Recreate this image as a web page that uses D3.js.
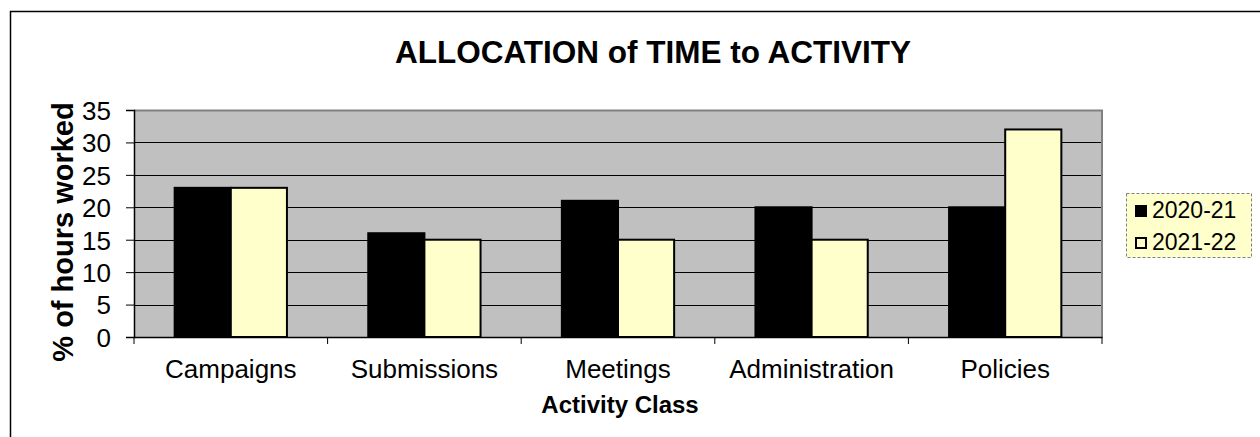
<!DOCTYPE html>
<html>
<head>
<meta charset="utf-8">
<script src="https://cdn.jsdelivr.net/npm/d3@7"></script>
<style>
  body { margin: 0; background: #fff; }
  svg { display: block; font-family: Arial, "Liberation Sans", sans-serif; }
</style>
</head>
<body>
<div id="chart"></div>
<script>
// Data
const categories = ["Campaigns", "Submissions", "Meetings", "Administration", "Policies"];
const seriesNames = ["2020-21", "2021-22"];
const values2020 = [23, 16, 21, 20, 20];
const values2021 = [23, 15, 15, 15, 32];
const yTicks = [0, 5, 10, 15, 20, 25, 30, 35];

const W = 1260, H = 437;
const plot = { left: 134, top: 110, right: 1102, bottom: 337 };
const colors = ["#000000", "#FFFFCC"];
const FONT = "Arial, 'Liberation Sans', sans-serif";

const svg = d3.select("#chart").append("svg")
  .attr("width", W).attr("height", H);

// Outer chart border
svg.append("rect")
  .attr("x", 10.5).attr("y", 11.5)
  .attr("width", W + 20).attr("height", H + 20)
  .attr("fill", "#fff").attr("stroke", "#000").attr("stroke-width", 1.5);

// Scales
const x0 = d3.scaleBand().domain(categories).range([plot.left, plot.right]);
const bw = x0.bandwidth();
const barW = bw * 0.29;
const y = d3.scaleLinear().domain([0, 35]).range([plot.bottom, plot.top]);

// Plot background
svg.append("rect")
  .attr("x", plot.left).attr("y", plot.top)
  .attr("width", plot.right - plot.left).attr("height", plot.bottom - plot.top)
  .attr("fill", "#C0C0C0");

// Gridlines
svg.append("g").selectAll("line").data(yTicks.filter(d => d > 0 && d < 35)).join("line")
  .attr("x1", plot.left).attr("x2", plot.right)
  .attr("y1", d => Math.round(y(d)) + 0.5).attr("y2", d => Math.round(y(d)) + 0.5)
  .attr("stroke", "#000").attr("stroke-width", 1);

// Plot border top/right
svg.append("path")
  .attr("d", `M${plot.left},${plot.top + 0.5}H${plot.right}V${plot.bottom}`)
  .attr("fill", "none").attr("stroke", "#808080").attr("stroke-width", 2);

// Bars
const series = [values2020, values2021];
series.forEach((vals, si) => {
  svg.append("g").selectAll("rect").data(categories).join("rect")
    .attr("x", (c) => x0(c) + bw / 2 - barW + si * barW)
    .attr("y", (c, i) => y(vals[i]))
    .attr("width", barW)
    .attr("height", (c, i) => y(0) - y(vals[i]))
    .attr("fill", colors[si])
    .attr("stroke", "#000").attr("stroke-width", 2);
});

// Y axis
const yAxis = svg.append("g")
  .attr("transform", `translate(${plot.left},0)`)
  .call(d3.axisLeft(y).tickValues(yTicks).tickSize(8).tickPadding(15));
yAxis.select(".domain").attr("stroke", "#000").attr("stroke-width", 1.5);
yAxis.selectAll(".tick line").attr("stroke", "#000");
yAxis.selectAll(".tick text").attr("font-size", 26).attr("fill", "#000")
  .attr("font-family", FONT).attr("dy", "0.36em");

// X axis
const xAxis = svg.append("g")
  .attr("transform", `translate(0,${plot.bottom})`)
  .call(d3.axisBottom(x0).tickSize(0).tickPadding(0));
xAxis.select(".domain").attr("stroke", "#000").attr("stroke-width", 1.5);
xAxis.selectAll(".tick text").attr("font-size", 26).attr("fill", "#000")
  .attr("font-family", FONT).attr("dy", null).attr("y", 41);
// category separator ticks
svg.append("g").selectAll("line").data(categories.concat([null])).join("line")
  .attr("x1", (c) => c === null ? plot.right : x0(c))
  .attr("x2", (c) => c === null ? plot.right : x0(c))
  .attr("y1", plot.bottom).attr("y2", plot.bottom + 7)
  .attr("stroke", "#000");

// Title
svg.append("text")
  .attr("x", 653).attr("y", 63)
  .attr("text-anchor", "middle")
  .attr("font-size", 31.5).attr("font-weight", "bold")
  .text("ALLOCATION of TIME to ACTIVITY");

// Axis titles
svg.append("text")
  .attr("x", 620).attr("y", 413)
  .attr("text-anchor", "middle")
  .attr("font-size", 24).attr("font-weight", "bold")
  .text("Activity Class");

svg.append("text")
  .attr("transform", "translate(73,232) rotate(-90)")
  .attr("text-anchor", "middle")
  .attr("font-size", 29).attr("font-weight", "bold")
  .text("% of hours worked");

// Legend
const legend = svg.append("g");
legend.append("rect")
  .attr("x", 1126.5).attr("y", 193.5).attr("width", 125).attr("height", 64)
  .attr("fill", "#FFFFCC").attr("stroke", "#808080").attr("stroke-dasharray", "3,2");
seriesNames.forEach((name, i) => {
  const base = 218 + i * 32;
  legend.append("rect")
    .attr("x", 1136).attr("y", base - 12).attr("width", 10).attr("height", 10)
    .attr("fill", colors[i]).attr("stroke", "#000").attr("stroke-width", 2);
  legend.append("text")
    .attr("x", 1152).attr("y", base)
    .attr("font-size", 23)
    .text(name);
});
</script>
</body>
</html>
